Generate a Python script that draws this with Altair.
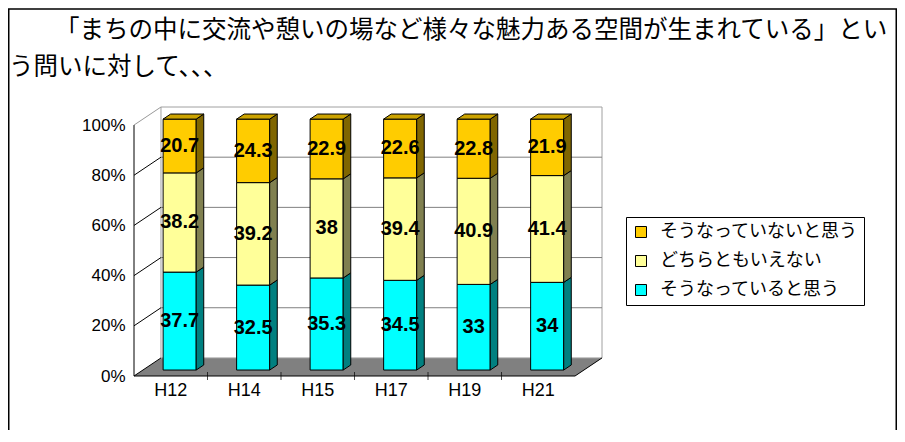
import altair as alt
import pandas as pd

# ---------------- data ----------------
categories = ["H12", "H14", "H15", "H17", "H19", "H21"]
series_names = ["そうなっていると思う", "どちらともいえない", "そうなっていないと思う"]
yes_vals = [37.7, 32.5, 35.3, 34.5, 33, 34]
neutral_vals = [38.2, 39.2, 38, 39.4, 40.9, 41.4]
no_vals = [20.7, 24.3, 22.9, 22.6, 22.8, 21.9]
y_ticks = [0, 20, 40, 60, 80, 100]
title_line1 = "「まちの中に交流や憩いの場など様々な魅力ある空間が生まれている」とい"
title_line2 = "う問いに対して、、、"

# ---------------- style / geometry ----------------
front_colors = ["#00FFFF", "#FFFF99", "#FFCC00"]
side_colors = ["#008080", "#808050", "#806600"]
top_color = "#CCA300"
N = len(categories)
DX, DY = 0.367, 7.2          # 3D depth in data units
F, BD, BW = 0.33, 0.28, 0.45  # bar front depth, bar depth, bar width
W, H = 468, 269
PAD_L, PAD_T = 126, 99

front_rows, side_rows, top_rows = [], [], []
series_lists = [yes_vals, neutral_vals, no_vals]
for i, cat in enumerate(categories):
    vals = [s[i] for s in series_lists]
    total = sum(vals)
    cum = 0.0
    xc = i + 0.5 + F * DX
    xl, xr = xc - BW / 2, xc + BW / 2
    fy = F * DY
    bdx, bdy = BD * DX, BD * DY
    for k, v in enumerate(vals):
        y0 = cum / total * 100
        y1 = (cum + v) / total * 100
        cum += v
        front_rows.append(dict(xl=xl, xr=xr, y0=y0 + fy, y1=y1 + fy, xc=xc,
                               ym=(y0 + y1) / 2 + fy, series=series_names[k],
                               label=f"{v:g}"))
        sid = f"{cat}-{k}"
        side_rows.append(dict(id=sid, x=xr, y=y0 + fy, y2=y1 + fy, fill=side_colors[k]))
        side_rows.append(dict(id=sid, x=xr + bdx, y=y0 + fy + bdy, y2=y1 + fy + bdy, fill=side_colors[k]))
        if k == len(vals) - 1:
            top_rows.append(dict(id=cat, y=y1 + fy, x=xl, x2=xr))
            top_rows.append(dict(id=cat, y=y1 + fy + bdy, x=xl + bdx, x2=xr + bdx))

front_df = pd.DataFrame(front_rows)
side_df = pd.DataFrame(side_rows)
top_df = pd.DataFrame(top_rows)
floor_df = pd.DataFrame([dict(y=0, x=0, x2=N), dict(y=DY, x=DX, x2=N + DX)])
wall_df = pd.DataFrame([dict(x=DX, x2=N + DX, y=DY, y2=100 + DY)])
grid_df = pd.DataFrame([dict(x=DX, x2=N + DX, y=v + DY) for v in y_ticks[1:-1]])
diag_df = pd.DataFrame([dict(x=0, x2=DX, y=v, y2=v + DY, c=("#999999" if v == 100 else "#000000"))
                        for v in y_ticks])
edge_df = pd.DataFrame([dict(x=N, x2=N + DX, y=0, y2=DY)])
front_axis_df = pd.DataFrame([dict(x=0, y=0, y2=100)])
front_edge_df = pd.DataFrame([dict(x=0, x2=N, y=0)])
tick_df = pd.DataFrame([dict(x=i, y=0) for i in range(1, N)])
cat_df = pd.DataFrame([dict(x=i + 0.5, y=0, t=c) for i, c in enumerate(categories)])
title1_df = pd.DataFrame([dict(t=title_line1)])
title2_df = pd.DataFrame([dict(t=title_line2)])
border_df = pd.DataFrame([dict(a=1)])

xs = alt.Scale(domain=[0, N + DX], nice=False, zero=False)
ys = alt.Scale(domain=[0, 100 + DY], nice=False, zero=False)
yaxis = alt.Axis(values=y_ticks, labelExpr="datum.value + '%'", domain=False, grid=False,
                 ticks=False, tickSize=0, labelPadding=9, title=None,
                 labelFont="Liberation Sans", labelFontSize=17, labelColor="black")


def X(f):
    return alt.X(f, type="quantitative", scale=xs, axis=None)


def Y(f):
    return alt.Y(f, type="quantitative", scale=ys, axis=yaxis)


floor = alt.Chart(floor_df).mark_area(orient="horizontal", color="#808080").encode(
    y=Y("y"), x=X("x"), x2="x2")
wall = alt.Chart(wall_df).mark_rect(filled=False, color="#A0A0A0", strokeWidth=1).encode(
    x=X("x"), x2="x2", y=Y("y"), y2="y2")
grid = alt.Chart(grid_df).mark_rule(color="#808080", strokeWidth=1).encode(
    x=X("x"), x2="x2", y=Y("y"))
diag = alt.Chart(diag_df).mark_rule(strokeWidth=1).encode(
    x=X("x"), x2="x2", y=Y("y"), y2="y2", color=alt.Color("c:N", scale=None))
edge = alt.Chart(edge_df).mark_rule(color="black", strokeWidth=1).encode(
    x=X("x"), x2="x2", y=Y("y"), y2="y2")

front = alt.Chart(front_df).mark_rect(stroke="black", strokeWidth=1).encode(
    x=X("xl"), x2="xr", y=Y("y0"), y2="y1",
    color=alt.Color("series:N",
                    scale=alt.Scale(domain=series_names[::-1], range=front_colors[::-1]),
                    legend=alt.Legend(orient="none", legendX=492, legendY=110, title=None,
                                      direction="vertical", symbolType="square",
                                      symbolSize=121, symbolStrokeColor="black",
                                      symbolStrokeWidth=1, symbolOpacity=1,
                                      labelFont="Noto Sans CJK JP", labelFontSize=18,
                                      labelColor="black", labelOffset=10, rowPadding=11,
                                      padding=6, fillColor="white", strokeColor="black",
                                      labelLimit=400)))
side = alt.Chart(side_df).mark_area(orient="vertical", stroke="black", strokeWidth=1).encode(
    x=X("x"), y=Y("y"), y2="y2", detail="id:N", fill=alt.Fill("fill:N", scale=None))
top = alt.Chart(top_df).mark_area(orient="horizontal", stroke="black", strokeWidth=1,
                                  fill=top_color).encode(
    y=Y("y"), x=X("x"), x2="x2", detail="id:N")
labels = alt.Chart(front_df).mark_text(font="Liberation Sans", fontSize=20, fontWeight="bold",
                                       color="black", align="center", baseline="middle").encode(
    x=X("xc"), y=Y("ym"), text="label:N")

front_axis = alt.Chart(front_axis_df).mark_rule(color="black", strokeWidth=1).encode(
    x=X("x"), y=Y("y"), y2="y2")
front_edge = alt.Chart(front_edge_df).mark_rule(color="black", strokeWidth=1).encode(
    x=X("x"), x2="x2", y=Y("y"))
ticks = alt.Chart(tick_df).mark_tick(orient="vertical", size=8, thickness=1, color="black").encode(
    x=X("x"), y=Y("y"))
cat_labels = alt.Chart(cat_df).mark_text(font="Liberation Sans", fontSize=18, color="black",
                                         align="center", baseline="middle", dy=15).encode(
    x=X("x"), y=Y("y"), text="t:N")

title1 = alt.Chart(title1_df).mark_text(font="Noto Sans CJK JP", fontSize=24.5, color="black",
                                        align="left", baseline="alphabetic").encode(
    x=alt.value(55 - 8 - PAD_L), y=alt.value(38 - 8 - PAD_T), text="t:N")
title2 = alt.Chart(title2_df).mark_text(font="Noto Sans CJK JP", fontSize=24.5, color="black",
                                        align="left", baseline="alphabetic").encode(
    x=alt.value(9 - 8 - PAD_L), y=alt.value(75 - 8 - PAD_T), text="t:N")
border = alt.Chart(border_df).mark_rect(filled=False, color="black", strokeWidth=1.5).encode(
    x=alt.value(0.75 - PAD_L), x2=alt.value(889 - 0.75 - PAD_L),
    y=alt.value(1 - PAD_T), y2=alt.value(440 - PAD_T))

chart = alt.layer(
    floor, wall, grid, diag, edge, front, side, top, labels,
    front_axis, front_edge, ticks, cat_labels, title1, title2, border
).properties(
    width=W, height=H, autosize="none",
    padding={"left": PAD_L, "top": PAD_T, "right": 889 - PAD_L - W, "bottom": 422 - PAD_T - H},
    background="white",
).configure_view(stroke=None)

chart.save("out.html", embed_options={"renderer": "svg", "actions": False})
